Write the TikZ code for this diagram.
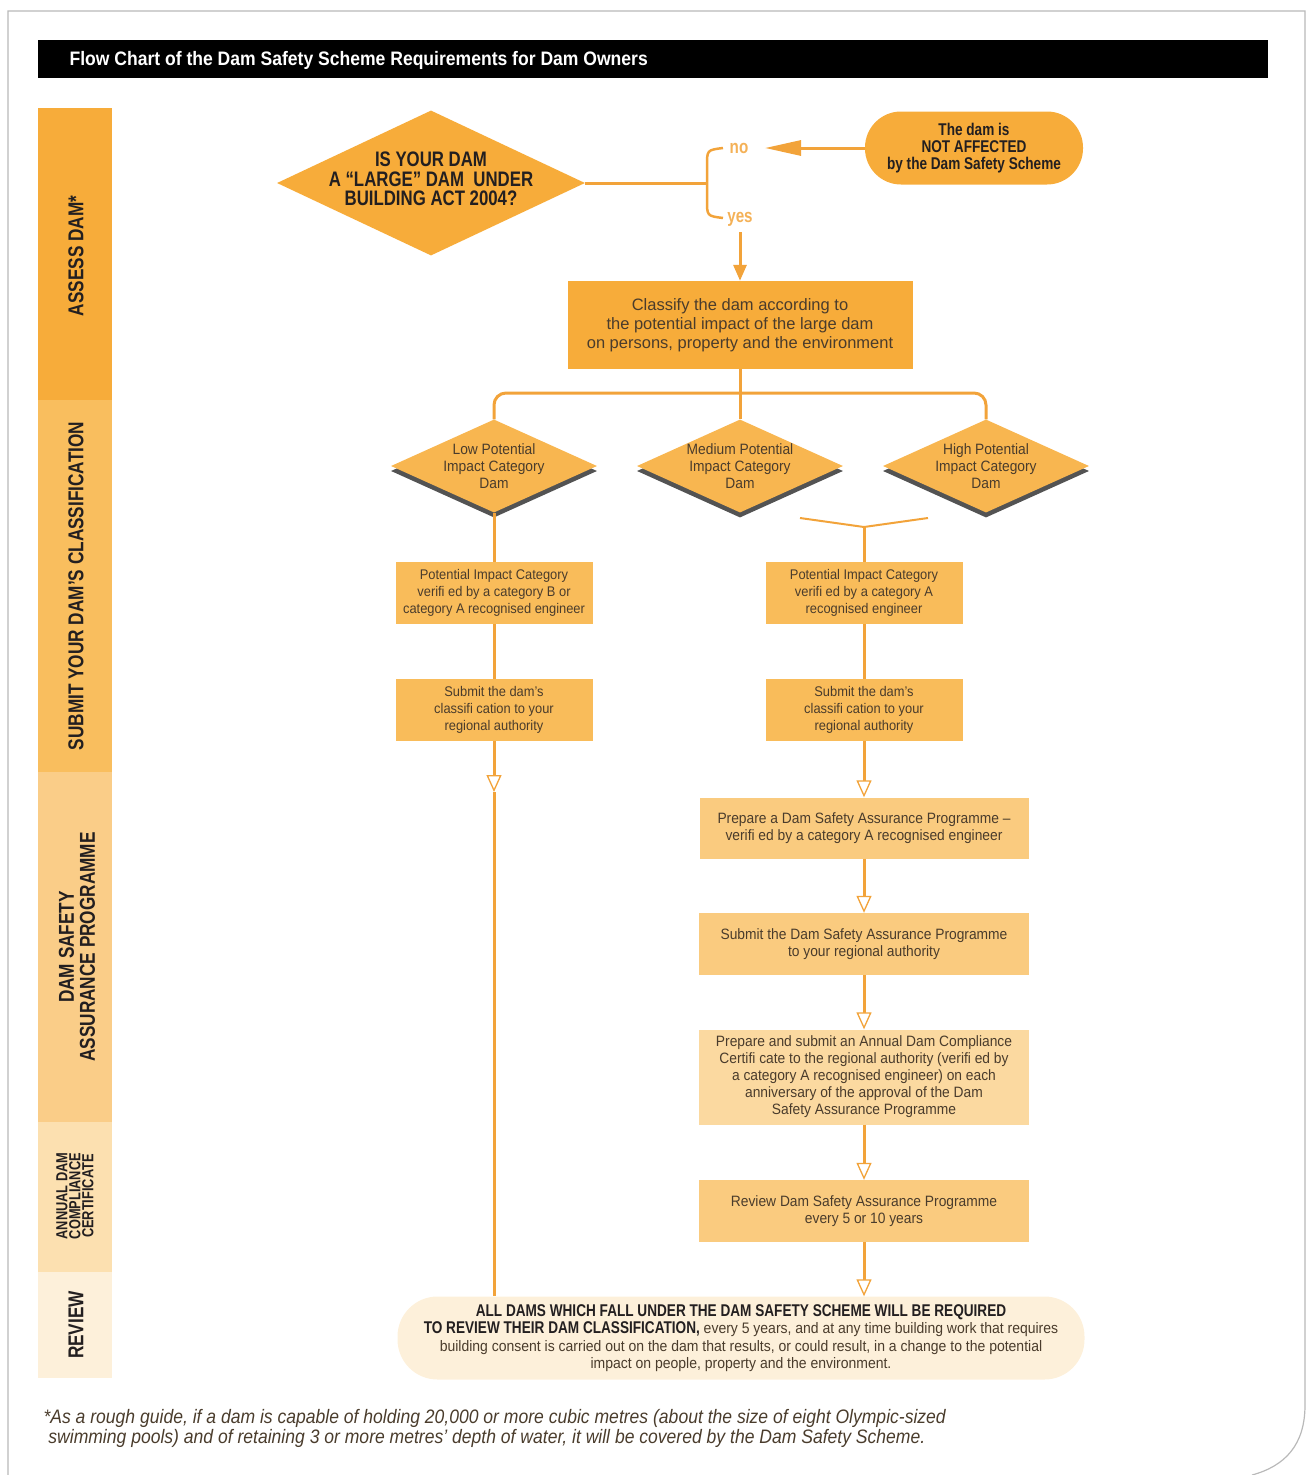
\documentclass[tikz,border=0pt]{standalone}
\usepackage{fontspec}
\setmainfont{Liberation Sans}
\newfontfamily\cnd[FakeStretch=0.8]{Liberation Sans}
\newfontfamily\nrw[FakeStretch=0.92]{Liberation Sans}
\newfontfamily\wde[FakeStretch=0.9]{Liberation Sans}
\usetikzlibrary{shapes.geometric,arrows.meta,shadows,positioning}

\definecolor{bandA}{HTML}{F7AC3A}
\definecolor{bandB}{HTML}{F9BE5E}
\definecolor{bandC}{HTML}{FACD88}
\definecolor{bandD}{HTML}{FCE0B0}
\definecolor{bandE}{HTML}{FDF0DA}
\definecolor{dmnd}{HTML}{F8B650}
\definecolor{boxA}{HTML}{F9BC5A}
\definecolor{boxC}{HTML}{FACB7F}
\definecolor{boxD}{HTML}{FBD9A0}
\definecolor{damline}{HTML}{F2A33A}
\definecolor{damtxt}{HTML}{4A3C2C}
\definecolor{darktxt}{HTML}{231F20}

\begin{document}
\begin{tikzpicture}[x=1pt,y=-1pt]
\tikzset{band style/.style={draw=none, minimum width=74pt, inner sep=0pt, rotate=90,
            text=darktxt, align=center, font=\cnd\bfseries\fontsize{21.5}{21}\selectfont},
         box style/.style={shape=rectangle, draw=none, fill=boxA, inner sep=0pt,
            minimum width=197pt, minimum height=62pt, align=center, text=damtxt,
            font=\nrw\fontsize{14}{17}\selectfont},
         step box/.style={box style, fill=boxC, minimum width=330pt,
            font=\nrw\fontsize{15}{17}\selectfont},
         cat style/.style={shape=diamond, fill=dmnd, inner sep=0pt, minimum width=206pt,
            minimum height=93pt,
            drop shadow={shadow xshift=0pt, shadow yshift=-5pt, fill=black!75, opacity=0.9}},
         cat text/.style={align=center, text=damtxt, inner sep=0pt,
            font=\nrw\fontsize{15}{17}\selectfont},
         ln/.style={draw=damline, line width=3pt},
         fl/.style={draw=damline, line width=3pt,
            -{Triangle[fill=white, length=17pt, width=15pt, line width=1.3pt]}},
         yn style/.style={text=damline!85, font=\cnd\bfseries\fontsize{19}{19}\selectfont}}

\useasboundingbox (0,0) rectangle (1311,1475);
\draw[gray!55, line width=1.2pt] (8,1475) -- (8,11) -- (1305,11) -- (1305,1405)
      .. controls (1305,1445) and (1285,1466) .. (1252,1475);

% title bar
\node[fill=black, minimum width=1230pt, minimum height=38pt, inner sep=0pt] (title) at (653,59) {};
\node[anchor=west, text=white, font=\wde\bfseries\fontsize{19.5}{20}\selectfont] (titletext) at (66,60)
      {Flow Chart of the Dam Safety Scheme Requirements for Dam Owners};

% stages
\fill[bandA] (38,108) rectangle (112,400);
\fill[bandB] (38,400) rectangle (112,772);
\fill[bandC] (38,772) rectangle (112,1122);
\fill[bandD] (38,1122) rectangle (112,1272);
\fill[bandE] (38,1272) rectangle (112,1378);
\node[band style] (s1) at (76,256)  {ASSESS DAM*};
\node[band style] (s2) at (76,586)  {SUBMIT YOUR DAM’S CLASSIFICATION};
\node[band style] (s3) at (77,947)  {DAM SAFETY\\ASSURANCE PROGRAMME};
\node[band style, font=\cnd\bfseries\fontsize{16}{13}\selectfont] (s4) at (75,1196)
      {ANNUAL DAM\\COMPLIANCE\\CERTIFICATE};
\node[band style] (s5) at (76,1325) {REVIEW};

% question
\node[shape=diamond, fill=bandA, inner sep=0pt, minimum width=308pt, minimum height=145pt,
      label={[align=center, text=darktxt, inner sep=0pt, yshift=4pt,
              font=\cnd\bfseries\fontsize{21}{19.5}\selectfont]center:IS YOUR DAM\\A “LARGE” DAM \ UNDER\\BUILDING ACT 2004?}]
      (q) at (431,183) {};
\node[shape=rectangle, rounded corners=36pt, fill=bandA, minimum width=218pt, minimum height=73pt,
      inner sep=0pt, align=center, text=darktxt, font=\cnd\bfseries\fontsize{17}{17}\selectfont] (ov) at (974,148)
      {The dam is\\NOT AFFECTED\\by the Dam Safety Scheme};
\node[yn style] (no)  at (739,148) {no};
\node[yn style] (yes) at (740,219) {yes};

\node[box style, fill=bandA, minimum width=345pt, minimum height=88pt,
      font=\fontsize{16.5}{19}\selectfont] (cl) at (740,325)
      {Classify the dam according to\\the potential impact of the large dam\\on persons, property and the environment};

% categories
\node[cat style, label={[cat text]center:Low Potential\\Impact Category\\Dam}]    (lo) at (494,466) {};
\node[cat style, label={[cat text]center:Medium Potential\\Impact Category\\Dam}] (md) at (740,466) {};
\node[cat style, label={[cat text]center:High Potential\\Impact Category\\Dam}]   (hi) at (986,466) {};

\node[box style] (a1) at (494,593) {Potential Impact Category\\verifi ed by a category B or\\category A recognised engineer};
\node[box style] (a2) at (494,710) {Submit the dam’s\\classifi cation to your\\regional authority};
\node[box style] (b1) at (864,593) {Potential Impact Category\\verifi ed by a category A\\recognised engineer};
\node[box style] (b2) at (864,710) {Submit the dam’s\\classifi cation to your\\regional authority};

\node[step box, minimum width=329pt, minimum height=61pt] (c1) at (864,828)
      {Prepare a Dam Safety Assurance Programme –\\verifi ed by a category A recognised engineer};
\node[step box] (c2) at (864,944)
      {Submit the Dam Safety Assurance Programme\\to your regional authority};
\node[step box, fill=boxD, minimum height=95pt] (c3) at (864,1077)
      {Prepare and submit an Annual Dam Compliance\\Certifi cate to the regional authority (verifi ed by\\a category A recognised engineer) on each\\anniversary of the approval of the Dam\\Safety Assurance Programme};
\node[step box] (c4) at (864,1211)
      {Review Dam Safety Assurance Programme\\every 5 or 10 years};

\node[shape=rectangle, rounded corners=40pt, fill=bandE, minimum width=687pt, minimum height=83pt,
      inner sep=0pt, align=center, text=damtxt, font=\nrw\fontsize{15.2}{17.5}\selectfont] (bt) at (741,1338)
      {{\cnd\bfseries\fontsize{17}{17.5}\selectfont\color{darktxt}ALL DAMS WHICH FALL UNDER THE DAM SAFETY SCHEME WILL BE REQUIRED}\\
       {\cnd\bfseries\fontsize{17}{17.5}\selectfont\color{darktxt}TO REVIEW THEIR DAM CLASSIFICATION,} every 5 years, and at any time building work that requires\\
       building consent is carried out on the dam that results, or could result, in a change to the potential\\
       impact on people, property and the environment.};

\node[anchor=north west, align=left, text=damtxt, font=\wde\itshape\fontsize{19.5}{20}\selectfont] (fn) at (40,1406)
      {*As a rough guide, if a dam is capable of holding 20,000 or more cubic metres (about the size of eight Olympic-sized\\
       \ swimming pools) and of retaining 3 or more metres’ depth of water, it will be covered by the Dam Safety Scheme.};

% connectors
\coordinate (br) at (707,183);
\coordinate (nt) at (723,148);
\coordinate (yb) at (723,218);
\coordinate (na) at (765,148);
\coordinate (ya) at (740,232);
\coordinate (sp) at (740,393);
\coordinate (ym) at (800,518);
\coordinate (yh) at (928,518);
\coordinate (jn) at (864,527);
\coordinate (lt) at (494,792);

\draw[ln] (q.east) -- (br);
\draw[ln, line width=2.5pt] (nt) .. controls (707,150) .. (707,166) -- (707,200) .. controls (707,216) .. (yb);
\draw[ln, -{Triangle[length=36pt, width=15pt]}] (ov.west) -- (na);
\draw[ln, -{Triangle[length=16pt, width=13pt]}] (ya) -- (cl.north);

\draw[ln] (cl) -- (md);
\draw[ln, rounded corners=12pt] (lo.north) -- (lo.north |- sp) -- (hi.north |- sp) -- (hi.north);
\draw[ln] (lo) -- (a1);
\draw[ln] (a1) -- (a2);
\draw[fl] (a2) -- (lt);
\draw[ln] (lt) -- (lt |- bt.north);

\draw[ln, line width=2pt] (ym) -- (jn) -- (yh);
\draw[ln] (jn) -- (b1);
\draw[ln] (b1) -- (b2);
\draw[fl] (b2) -- (c1);
\draw[fl] (c1) -- (c2);
\draw[fl] (c2) -- (c3);
\draw[fl] (c3) -- (c4);
\draw[fl] (c4) -- (c4.south |- bt.north);
\end{tikzpicture}
\end{document}
